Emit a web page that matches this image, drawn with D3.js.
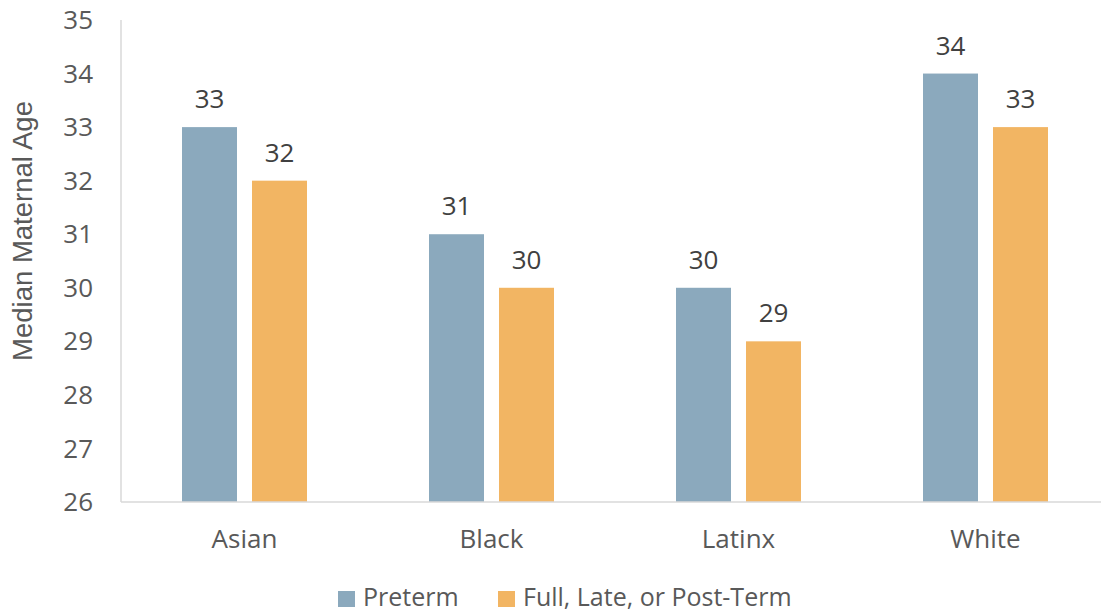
<!DOCTYPE html>
<html>
<head>
<meta charset="utf-8">
<script src="https://cdn.jsdelivr.net/npm/d3@7"></script>
<style>
  body { margin: 0; background: #fff; }
  svg { font-family: "Open Sans", sans-serif; }
</style>
</head>
<body>
<div id="chart"></div>
<script>
// Data
const categories = ["Asian", "Black", "Latinx", "White"];
const seriesNames = ["Preterm", "Full, Late, or Post-Term"];
const preterm = [33, 31, 30, 34];
const fullTerm = [32, 30, 29, 33];
const yTicks = [26, 27, 28, 29, 30, 31, 32, 33, 34, 35];
const colors = ["#8ba9bd", "#f2b563"];

const width = 1101, height = 613;

const svg = d3.select("#chart")
  .append("svg")
  .attr("width", width)
  .attr("height", height);

// Build rows for the grouped bars
const rows = categories.map((c, i) => ({
  category: c,
  values: [
    { series: seriesNames[0], value: preterm[i] },
    { series: seriesNames[1], value: fullTerm[i] }
  ]
}));

// Scales
const x0 = d3.scaleBand().domain(categories).range([121, 1109]).padding(0);
const x1 = d3.scaleBand().domain(seriesNames).range([61, 186]).paddingInner(15 / 70).paddingOuter(0);
const y = d3.scaleLinear().domain([26, 35]).range([502, 20]);
const color = d3.scaleOrdinal().domain(seriesNames).range(colors);

// Y axis labels
svg.append("g")
  .selectAll("text")
  .data(yTicks)
  .join("text")
  .attr("x", 93)
  .attr("y", d => y(d))
  .attr("dy", "0.35em")
  .attr("text-anchor", "end")
  .style("font-size", "26px")
  .style("fill", "#595959")
  .text(d => d);

// Y axis title (different face in the original)
svg.append("text")
  .attr("transform", "translate(32,231) rotate(-90)")
  .attr("text-anchor", "middle")
  .style("font-family", "'Liberation Sans', Arial, sans-serif")
  .style("font-size", "27.5px")
  .style("fill", "#595959")
  .text("Median Maternal Age");

// Bars
const groups = svg.selectAll("g.group")
  .data(rows)
  .join("g")
  .attr("class", "group")
  .attr("transform", d => `translate(${x0(d.category)},0)`);

groups.selectAll("rect")
  .data(d => d.values)
  .join("rect")
  .attr("x", d => x1(d.series))
  .attr("y", d => y(d.value))
  .attr("width", x1.bandwidth())
  .attr("height", d => y(26) - y(d.value))
  .attr("fill", d => color(d.series));

// Value labels
groups.selectAll("text.value")
  .data(d => d.values)
  .join("text")
  .attr("class", "value")
  .attr("x", d => x1(d.series) + x1.bandwidth() / 2)
  .attr("y", d => y(d.value) - 28)
  .attr("dy", "0.35em")
  .attr("text-anchor", "middle")
  .style("font-size", "26px")
  .style("fill", "#404040")
  .text(d => d.value);

// Axis lines
svg.append("line")
  .attr("x1", 121).attr("x2", 121)
  .attr("y1", y(35)).attr("y2", y(26))
  .attr("stroke", "#d9d9d9").attr("stroke-width", 1.5);

svg.append("line")
  .attr("x1", 121).attr("x2", 1109)
  .attr("y1", y(26)).attr("y2", y(26))
  .attr("stroke", "#d9d9d9").attr("stroke-width", 1.5);

// Category labels
svg.append("g")
  .selectAll("text")
  .data(categories)
  .join("text")
  .attr("x", d => x0(d) + x0.bandwidth() / 2)
  .attr("y", 539)
  .attr("dy", "0.35em")
  .attr("text-anchor", "middle")
  .style("font-size", "26px")
  .style("fill", "#595959")
  .text(d => d);

// Legend - kept just inside the bottom edge
const legendX = [338, 498];
const legend = svg.selectAll("g.legend")
  .data(seriesNames)
  .join("g")
  .attr("class", "legend")
  .attr("transform", (d, i) => `translate(${legendX[i]},591)`);

legend.append("rect")
  .attr("width", 17)
  .attr("height", 16)
  .attr("fill", d => color(d));

legend.append("text")
  .attr("x", 25)
  .attr("y", 15)
  .style("font-size", "25px")
  .style("fill", "#595959")
  .text(d => d);
</script>
</body>
</html>
